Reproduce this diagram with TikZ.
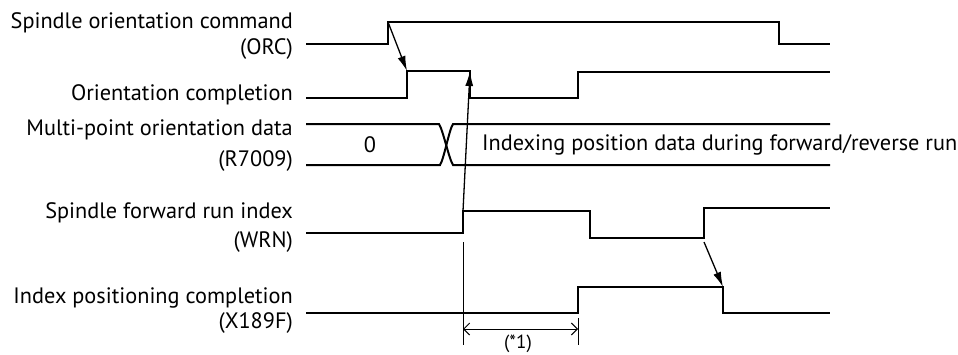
\documentclass[tikz,border=0pt]{standalone}
\usepackage{fontspec}
\setmainfont{PT Sans}
\usetikzlibrary{arrows.meta}
\begin{document}
\begin{tikzpicture}[x=1pt,y=-1pt,
  sig/.style={line width=2pt, line join=miter},
  thinline/.style={line width=0.9pt},
  lbl/.style={anchor=east, inner sep=0pt, font=\fontsize{22.3}{24}\selectfont},
  txt/.style={inner sep=0pt, font=\fontsize{22.3}{24}\selectfont},
  cause/.style={line width=1.3pt, -{Latex[length=15pt,width=8pt]}},
  dim/.style={line width=1pt, {Straight Barb[length=6pt,width=12pt]}-{Straight Barb[length=6pt,width=12pt]}}
]
\useasboundingbox (0,0) rectangle (958,354);
% labels
\node[lbl] (l1a) at (293,23) {Spindle orientation command};
\node[lbl] (l1b) at (293,49) {(ORC)};
\node[lbl] (l2) at (293,95) {Orientation completion};
\node[lbl] (l3a) at (293,130) {Multi-point orientation data};
\node[lbl] (l3b) at (293,161) {(R7009)};
\node[lbl] (l4a) at (293,213) {Spindle forward run index};
\node[lbl] (l4b) at (293,242) {(WRN)};
\node[lbl] (l5a) at (293,298) {Index positioning completion};
\node[lbl] (l5b) at (293,323) {(X189F)};
% key coordinates
\coordinate (orcUp) at (388,22);
\coordinate (ocUp) at (407,71);
\coordinate (ocDn) at (470,71);
\coordinate (wrnUp) at (463,211);
\coordinate (wrnUp2) at (704,242);
\coordinate (ipDn) at (723,287);
% ORC
\draw[sig] (306,44) -- (388,44) -- (orcUp) -- (779,22) -- (779,44) -- (830,44);
% Orientation completion
\draw[sig] (306,98) -- (407,98) -- (ocUp) -- (ocDn) -- (470,98) -- (578,98) -- (578,72) -- (830,72);
% Multi-point data
\draw[sig] (306,124) -- (439,124) .. controls (443,130) and (449,159) .. (453,165) -- (830,165);
\draw[sig] (306,165) -- (440,165) .. controls (444,159) and (449,130) .. (453,124) -- (830,124);
\node[txt] (d0) at (370,145) {0};
\node[txt, anchor=west] (d1) at (482,145) {Indexing position data during forward/reverse run};
% WRN
\draw[sig] (306,233) -- (463,233) -- (wrnUp) -- (590,211) -- (590,238) -- (704,238) -- (704,208) -- (830,208);
% Index positioning completion
\draw[sig] (306,313) -- (578,313) -- (578,287) -- (ipDn) -- (723,313) -- (830,313);
% causal arrows
\draw[cause] (orcUp) -- (ocUp);
\draw[cause] (wrnUp) -- (ocDn);
\draw[cause] (wrnUp2) -- (ipDn);
% dimension
\coordinate (v1t) at (463,242);
\coordinate (v1b) at (463,345);
\coordinate (v2t) at (578,318);
\coordinate (v2b) at (578,345);
\draw[thinline] (v1t) -- (v1b);
\draw[thinline] (v2t) -- (v2b);
\coordinate (a1) at (463,329);
\coordinate (a2) at (578,329);
\draw[dim] (a1) -- (a2);
\node[txt, anchor=south, font=\fontsize{19}{21}\selectfont] (n1) at (518,353) {(*1)};
\end{tikzpicture}
\end{document}
